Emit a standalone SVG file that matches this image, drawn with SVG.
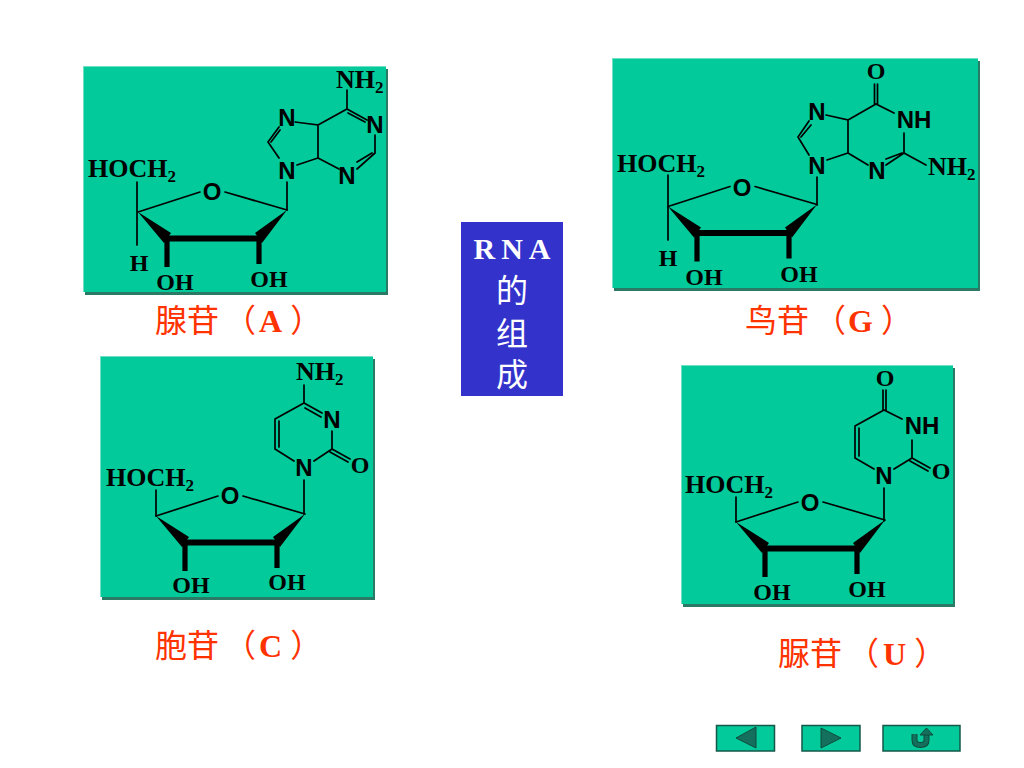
<svg xmlns="http://www.w3.org/2000/svg" width="1024" height="768" viewBox="0 0 1024 768">
<style>
.panel{fill:#02CA9A}
.shadow{fill:#2B7A66}
.hl{fill:#6FE0C4}
.b{stroke:#000;stroke-width:1.7;fill:none;stroke-linecap:round}
.s{font-family:"Liberation Serif",serif;font-weight:bold;font-size:26px;fill:#000}
.o{font-family:"Liberation Serif",serif;font-weight:bold;font-size:24px;fill:#000;text-anchor:middle}
.n{font-family:"Liberation Sans",sans-serif;font-weight:bold;font-size:24px;fill:#000;text-anchor:middle}
.sub{font-size:17px}
.lab{font-family:"Liberation Serif","Noto Sans CJK SC",serif;font-size:32px;fill:#FF3300}
.lab .l{font-weight:bold}
.title{font-family:"Liberation Serif","Noto Sans CJK SC",serif;fill:#fff;text-anchor:middle;font-size:32px}
.btn{fill:#02CA9A;stroke:#14584A;stroke-width:1.5}
.ico{fill:#14705C;stroke:#0E4A3C;stroke-width:1}
</style>
<defs>
<g id="sugar">
<path class="b" d="M138 212L200 192M225 192L287 210"/>
<path d="M138 212L171 233L164 243ZM287 210L255 233L262 243Z" fill="#000"/>
<path d="M164 238.5H261" stroke="#000" stroke-width="6" fill="none"/>
<path d="M167 238V267M259 238V264" stroke="#000" stroke-width="5.2" fill="none"/>
</g>
</defs>
<rect width="1024" height="768" fill="#fff"/>

<g id="adenosine">
<rect class="shadow" x="85" y="69" width="303" height="226"/>
<rect class="hl" x="83" y="66" width="303" height="226"/>
<rect class="panel" x="84" y="67" width="302" height="225"/>
<use href="#sugar"/>
<path class="b" d="M137 182V245M287 182V210M279 158L268 142L279 127M271 142L280 130M295 122L318 125V158L297 165M318 125L347 109L367 120M348 113L365 122M347 90V109M375 135V153L357 169M372 153L357 162M318 158L339 169"/>
<text class="s" x="88" y="177">HOCH<tspan class="sub" dy="5">2</tspan></text>
<text class="s" x="336" y="88">NH<tspan class="sub" dy="5">2</tspan></text>
<text class="o" x="139" y="271">H</text>
<text class="o" x="175" y="290">OH</text>
<text class="o" x="269" y="287">OH</text>
<text class="n" x="212" y="200">O</text>
<text class="n" x="287" y="179">N</text>
<text class="n" x="287" y="126">N</text>
<text class="n" x="375" y="133">N</text>
<text class="n" x="347" y="184">N</text>
<text class="lab" x="155" y="332">腺苷<tspan dx="5">（</tspan><tspan class="l" dx="3">A</tspan><tspan dx="8">）</tspan></text>
</g>

<g id="guanosine">
<rect class="shadow" x="614" y="61" width="366" height="230"/>
<rect class="hl" x="612" y="58" width="366" height="230"/>
<rect class="panel" x="613" y="59" width="365" height="229"/>
<use href="#sugar" transform="translate(530,-5.5)"/>
<path class="b" d="M668 175V240M817 177V205M809 155L798 137L809 121M801 137L811 125M826 115L848 120V153L827 160M848 120L876 104L894 113M874.500 104V84M877.500 104V84M904 133V153L886 165M902 153L886 159M904 153L926 165M848 153L868 165"/>
<text class="s" x="617" y="172">HOCH<tspan class="sub" dy="5">2</tspan></text>
<text class="s" x="928" y="175">NH<tspan class="sub" dy="5">2</tspan></text>
<text class="o" x="668" y="266">H</text>
<text class="o" x="704" y="285">OH</text>
<text class="o" x="799" y="282">OH</text>
<text class="o" x="876" y="79">O</text>
<text class="n" x="742" y="196">O</text>
<text class="n" x="817" y="174">N</text>
<text class="n" x="817" y="120">N</text>
<text class="n" x="914" y="128">NH</text>
<text class="n" x="877" y="179">N</text>
<text class="lab" x="745" y="332">鸟苷<tspan dx="5">（</tspan><tspan class="l" dx="2">G</tspan><tspan dx="8">）</tspan></text>
</g>

<g id="cytidine">
<rect class="shadow" x="102" y="359" width="273" height="241"/>
<rect class="hl" x="100" y="356" width="273" height="241"/>
<rect class="panel" x="101" y="357" width="272" height="240"/>
<use href="#sugar" transform="translate(18,304)"/>
<path class="b" d="M156 490V516M304 480V514M294 461L275 449V419L304 403L322 413M279 447V421M305 408L321 417M304 385V403M332 431V449L314 461M332 449L350 459M330 452L348 462"/>
<text class="s" x="106" y="486">HOCH<tspan class="sub" dy="5">2</tspan></text>
<text class="s" x="296" y="380">NH<tspan class="sub" dy="5">2</tspan></text>
<text class="o" x="191" y="593">OH</text>
<text class="o" x="287" y="590">OH</text>
<text class="o" x="360" y="473">O</text>
<text class="n" x="230" y="504">O</text>
<text class="n" x="304" y="476">N</text>
<text class="n" x="332" y="428">N</text>
<text class="lab" x="155" y="657">胞苷<tspan dx="5">（</tspan><tspan class="l" dx="3">C</tspan><tspan dx="8">）</tspan></text>
</g>

<g id="uridine">
<rect class="shadow" x="683" y="368" width="272" height="239"/>
<rect class="hl" x="681" y="365" width="272" height="239"/>
<rect class="panel" x="682" y="366" width="271" height="238"/>
<use href="#sugar" transform="translate(598,310)"/>
<path class="b" d="M736 497V522M884 488V521M874 469L855 458V426L884 410L902 419M859 456V428M883 410V390M886 410V390M912 440V458L894 469M912 458L930 468M910 461L928 471"/>
<text class="s" x="685" y="493">HOCH<tspan class="sub" dy="5">2</tspan></text>
<text class="o" x="772" y="600">OH</text>
<text class="o" x="867" y="597">OH</text>
<text class="o" x="885" y="386">O</text>
<text class="o" x="941" y="479">O</text>
<text class="n" x="810" y="511">O</text>
<text class="n" x="884" y="484">N</text>
<text class="n" x="922" y="434">NH</text>
<text class="lab" x="778" y="665">脲苷<tspan dx="5">（</tspan><tspan class="l" dx="4">U</tspan><tspan dx="8">）</tspan></text>
</g>

<g id="title">
<rect x="461" y="222" width="102" height="174" fill="#3333CC"/>
<text class="title" x="515" y="259" style="font-size:30px;font-weight:bold;letter-spacing:6px">RNA</text>
<text class="title" x="512" y="302">的</text>
<text class="title" x="512" y="345">组</text>
<text class="title" x="512" y="386">成</text>
</g>

<g id="nav-back">
<rect class="btn" x="716.500" y="725.500" width="58" height="25.500"/>
<path class="ico" d="M736 738L756 727V748Z"/>
</g>
<g id="nav-forward">
<rect class="btn" x="802" y="725.500" width="58" height="25.500"/>
<path class="ico" d="M821 728V748L841 738Z"/>
</g>
<g id="nav-return">
<rect class="btn" x="883" y="725.500" width="77" height="25.500"/>
<path d="M914.500 734V740Q914.500 745 920.500 745Q926.500 745 926.500 740V733" fill="none" stroke="#0E4A3C" stroke-width="6"/>
<path d="M914.500 734V740Q914.500 745 920.500 745Q926.500 745 926.500 740V733" fill="none" stroke="#14705C" stroke-width="4"/>
<path class="ico" d="M926.500 728L933 735H920Z"/>
</g>
</svg>
